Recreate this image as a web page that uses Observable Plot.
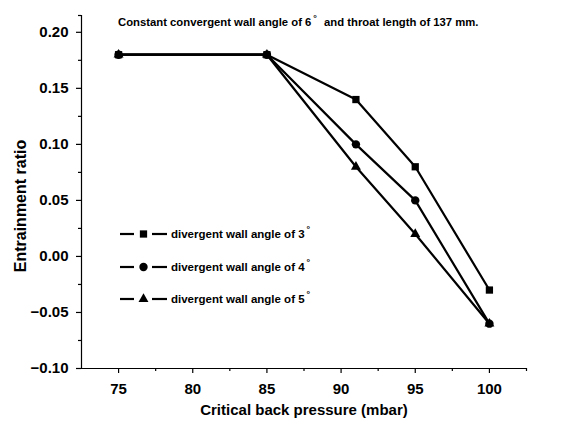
<!DOCTYPE html>
<html>
<head>
<meta charset="utf-8">
<script src="https://cdn.jsdelivr.net/npm/d3@7"></script>
<script src="https://cdn.jsdelivr.net/npm/@observablehq/plot@0.6"></script>
<style>
  html, body { margin: 0; padding: 0; background: #fff; }
  #wrap { position: relative; width: 576px; height: 426px; font-family: "Liberation Sans", Arial, sans-serif; font-weight: bold; color: #000; }
  #title { position: absolute; left: 118px; top: 15px; font-size: 11.3px; line-height: 14px; white-space: nowrap; }
  sup { font-size: 9px; position: relative; top: -4px; vertical-align: top; margin-left: 2px; margin-right: 4px; }
  #legend { position: absolute; left: 118px; top: 218px; }
  .row { display: flex; align-items: center; height: 32.5px; font-size: 11.5px; white-space: nowrap; }
  .row svg { margin-right: 2px; }
</style>
</head>
<body>
<div id="wrap"></div>
<script>
// ---- data ----
const pressure = [75, 85, 91, 95, 100];
const angle3 = [0.18, 0.18, 0.14, 0.08, -0.03];
const angle4 = [0.18, 0.18, 0.10, 0.05, -0.06];
const angle5 = [0.18, 0.18, 0.08, 0.02, -0.06];
const seriesNames = ["divergent wall angle of 3", "divergent wall angle of 4", "divergent wall angle of 5"];
const symbols = ["square", "circle", "triangle"];

const xTicks = [75, 80, 85, 90, 95, 100];
const xMinor = [77.5, 82.5, 87.5, 92.5, 97.5, 102.5];
const yTicks = [-0.10, -0.05, 0.00, 0.05, 0.10, 0.15, 0.20];
const yMinor = [-0.075, -0.025, 0.025, 0.075, 0.125, 0.175];
const xDomain = [72.5, 102.5];
const yDomain = [-0.10, 0.215];

const titleText = "Constant convergent wall angle of 6";
const titleText2 = " and throat length of 137 mm.";
const xLabel = "Critical back pressure (mbar)";
const yLabel = "Entrainment ratio";

const allSeries = [angle3, angle4, angle5];
const rows = allSeries.map((vals, s) => pressure.map((p, i) => ({p, v: vals[i], s})));
const dotR = [4.1, 4.2, 3.7];

const font = '"Liberation Sans", Arial, sans-serif';

const marks = [
  Plot.ruleY([yDomain[0]], {stroke: "black", strokeWidth: 1.2}),
  Plot.ruleX([xDomain[0]], {stroke: "black", strokeWidth: 1.2}),
  Plot.axisX({ticks: xTicks, tickSize: 5, tickPadding: 10, fontSize: 15, fontWeight: "bold", label: null, strokeWidth: 1.2}),
  Plot.axisX({ticks: xMinor, tickSize: 3, tickFormat: () => "", label: null, strokeWidth: 1.2}),
  Plot.axisY({ticks: yTicks, tickSize: 5, tickPadding: 8, fontSize: 15, fontWeight: "bold", label: null, tickFormat: d3.format(".2f"), strokeWidth: 1.2}),
  Plot.axisY({ticks: yMinor, tickSize: 3, tickFormat: () => "", label: null, strokeWidth: 1.2}),
  Plot.axisY({ticks: [yDomain[1]], tickSize: 3, tickFormat: () => "", label: null, strokeWidth: 1.2}),
  Plot.text([xLabel], {frameAnchor: "bottom", dy: 46, text: d => d, fontSize: 15, fontWeight: "bold"}),
  Plot.text([yLabel], {frameAnchor: "left", textAnchor: "middle", dx: -61, dy: 14, rotate: -90, text: d => d, fontSize: 16, fontWeight: "bold"}),
];
rows.forEach((data) => {
  marks.push(Plot.line(data, {x: "p", y: "v", stroke: "black", strokeWidth: 2.2}));
});
rows.forEach((data, s) => {
  marks.push(Plot.dot(data, {x: "p", y: "v", symbol: () => symbols[s], r: dotR[s], fill: "black", stroke: "none"}));
});

const chart = Plot.plot({
  width: 576,
  height: 426,
  marginLeft: 81,
  marginRight: 50,
  marginTop: 15,
  marginBottom: 58,
  style: {fontFamily: font, fontWeight: "bold", color: "black", background: "white", overflow: "visible"},
  x: {domain: xDomain},
  y: {domain: yDomain},
  symbol: {type: "identity"},
  marks
});

const wrap = document.getElementById("wrap");
wrap.appendChild(chart);

// title
const t = document.createElement("div");
t.id = "title";
t.innerHTML = `${titleText}<sup>°</sup>${titleText2}`;
wrap.appendChild(t);

// legend
const lg = document.createElement("div");
lg.id = "legend";
seriesNames.forEach((name, s) => {
  const row = document.createElement("div");
  row.className = "row";
  const sym = d3.symbol().type(s === 0 ? d3.symbolSquare : s === 1 ? d3.symbolCircle : d3.symbolTriangle).size(Math.PI * dotR[s] * dotR[s])();
  row.innerHTML = `<svg width="51" height="14" viewBox="0 0 51 14">
      <line x1="2" y1="7" x2="16" y2="7" stroke="black" stroke-width="2.2"/>
      <line x1="34" y1="7" x2="49" y2="7" stroke="black" stroke-width="2.2"/>
      <path d="${sym}" transform="translate(25.5,7)" fill="black"/>
    </svg><span>${name}<sup>°</sup></span>`;
  lg.appendChild(row);
});
wrap.appendChild(lg);
</script>
</body>
</html>
